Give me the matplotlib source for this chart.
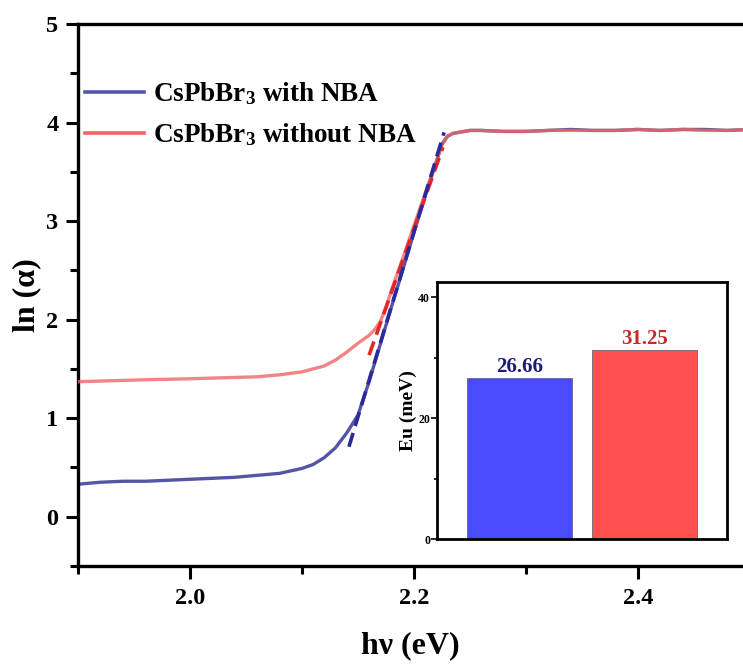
import matplotlib
matplotlib.use("Agg")
import matplotlib.pyplot as plt
from matplotlib.ticker import MultipleLocator

plt.rcParams['font.family'] = ['Liberation Serif', 'DejaVu Serif']
plt.rcParams['font.weight'] = 'bold'
plt.rcParams['mathtext.fontset'] = 'custom'
plt.rcParams['mathtext.rm'] = 'Liberation Serif:bold'
plt.rcParams['mathtext.bf'] = 'Liberation Serif:bold'
plt.rcParams['mathtext.default'] = 'rm'

# ---- data ----
x_with = [1.90, 1.92, 1.94, 1.96, 1.98, 2.00, 2.02, 2.04, 2.06, 2.08, 2.10, 2.11, 2.12,
          2.13, 2.14, 2.15, 2.16, 2.17, 2.18, 2.19, 2.20, 2.21, 2.22, 2.225, 2.23, 2.235,
          2.24, 2.25, 2.26, 2.28, 2.30, 2.32, 2.34, 2.36, 2.38, 2.40, 2.42, 2.44, 2.46,
          2.48, 2.50]
y_with = [0.33, 0.35, 0.36, 0.36, 0.37, 0.38, 0.39, 0.40, 0.42, 0.44, 0.49, 0.53, 0.60,
          0.70, 0.85, 1.03, 1.37, 1.75, 2.13, 2.50, 2.88, 3.25, 3.60, 3.78, 3.86, 3.89,
          3.90, 3.92, 3.92, 3.91, 3.91, 3.92, 3.93, 3.92, 3.92, 3.93, 3.92, 3.93, 3.93,
          3.92, 3.93]
x_without = [1.90, 1.93, 1.96, 2.00, 2.03, 2.06, 2.08, 2.10, 2.12, 2.13, 2.14, 2.15, 2.16,
             2.165, 2.17, 2.175, 2.18, 2.19, 2.20, 2.21, 2.22, 2.225, 2.23, 2.235, 2.24,
             2.25, 2.26, 2.28, 2.30, 2.32, 2.34, 2.36, 2.38, 2.40, 2.42, 2.44, 2.46, 2.48, 2.50]
y_without = [1.37, 1.38, 1.39, 1.40, 1.41, 1.42, 1.44, 1.47, 1.53, 1.59, 1.67, 1.76, 1.84,
             1.90, 1.98, 2.12, 2.30, 2.62, 2.95, 3.28, 3.60, 3.77, 3.86, 3.89, 3.90,
             3.92, 3.92, 3.91, 3.91, 3.92, 3.92, 3.92, 3.92, 3.93, 3.92, 3.93, 3.92, 3.92, 3.93]
fit_with_x = [2.142, 2.227]
fit_with_y = [0.71, 3.90]
fit_without_x = [2.160, 2.226]
fit_without_y = [1.64, 3.75]

labels = ['CsPbBr$_3$ with NBA', 'CsPbBr$_3$ without NBA']
eu_values = [26.66, 31.25]
eu_labels = ['26.66', '31.25']

# ---- figure ----
fig = plt.figure(figsize=(7.43, 6.64), dpi=100)
ax = fig.add_axes([78/743, 98/664, 1 - 78/743, 542/664])

blue = '#5555a8'
red = '#ee6666'
ax.plot(x_with, y_with, color=blue, lw=2.4, label=labels[0], zorder=2)
ax.plot(x_without, y_without, color=red, lw=2.4, alpha=0.8, label=labels[1], zorder=3)
ax.plot(fit_without_x, fit_without_y, color='#e02828', lw=2.6, ls=(0, (4, 2)), zorder=4)
ax.plot(fit_with_x, fit_with_y, color='#2a2a9a', lw=2.6, ls=(0, (4, 2)), zorder=5)

ax.set_xlim(1.9, 2.494)
ax.set_ylim(-0.5, 5)
ax.xaxis.set_major_locator(MultipleLocator(0.2))
ax.xaxis.set_minor_locator(MultipleLocator(0.1))
ax.yaxis.set_major_locator(MultipleLocator(1))
ax.yaxis.set_minor_locator(MultipleLocator(0.5))
ax.xaxis.set_major_formatter(matplotlib.ticker.FormatStrFormatter('%.1f'))
ax.tick_params(which='major', direction='out', length=9, width=2.2, labelsize=17.5, pad=5)
ax.tick_params(which='minor', direction='out', length=6, width=2.2)
ax.tick_params(axis='x', which='major', pad=7)
for s in ['left', 'bottom', 'top']:
    ax.spines[s].set_linewidth(2.4)
ax.spines['right'].set_visible(False)
for lab in ax.get_xticklabels() + ax.get_yticklabels():
    lab.set_fontweight('bold')

ax.set_xlabel('hν (eV)', fontsize=23, fontweight='bold', labelpad=16)
ax.set_ylabel('ln (α)', fontsize=23, fontweight='bold', labelpad=4)

leg = ax.legend(loc='upper left', bbox_to_anchor=(-0.006, 0.916), frameon=False,
                prop={'family': 'Liberation Serif', 'weight': 'bold', 'size': 19.5},
                handlelength=2.2, handletextpad=0.3, labelspacing=0.52, borderaxespad=0)
for h in leg.get_lines():
    h.set_linewidth(2.6)
    h.set_alpha(1)

# ---- inset ----
axi = fig.add_axes([437/743, 125/664, 290/743, 257/664])
bar_colors = ['#4a4aff', '#ff4f4f']
text_colors = ['#1c1c70', '#c42a2a']
xs = [0, 1]
axi.bar(xs, eu_values, width=0.84, color=bar_colors, edgecolor='#555577', linewidth=0.5)
for xi, v, t, c in zip(xs, eu_values, eu_labels, text_colors):
    axi.text(xi, v + 0.2, t, ha='center', va='bottom', fontsize=15,
             fontweight='bold', color=c)
axi.set_xlim(-0.66, 1.66)
axi.set_ylim(0, 42.5)
axi.set_xticks([])
axi.yaxis.set_major_locator(MultipleLocator(20))
axi.yaxis.set_minor_locator(MultipleLocator(10))
axi.tick_params(axis='y', which='major', direction='out', length=4, width=1.2, labelsize=8.5, pad=1)
axi.tick_params(axis='y', which='minor', direction='out', length=2.5, width=1.2)
for lab in axi.get_yticklabels():
    lab.set_fontweight('bold')
for s in axi.spines.values():
    s.set_linewidth(2)
axi.set_ylabel('Eu (meV)', fontsize=14, fontweight='bold', labelpad=1)

fig.savefig('out.png', dpi=100)
